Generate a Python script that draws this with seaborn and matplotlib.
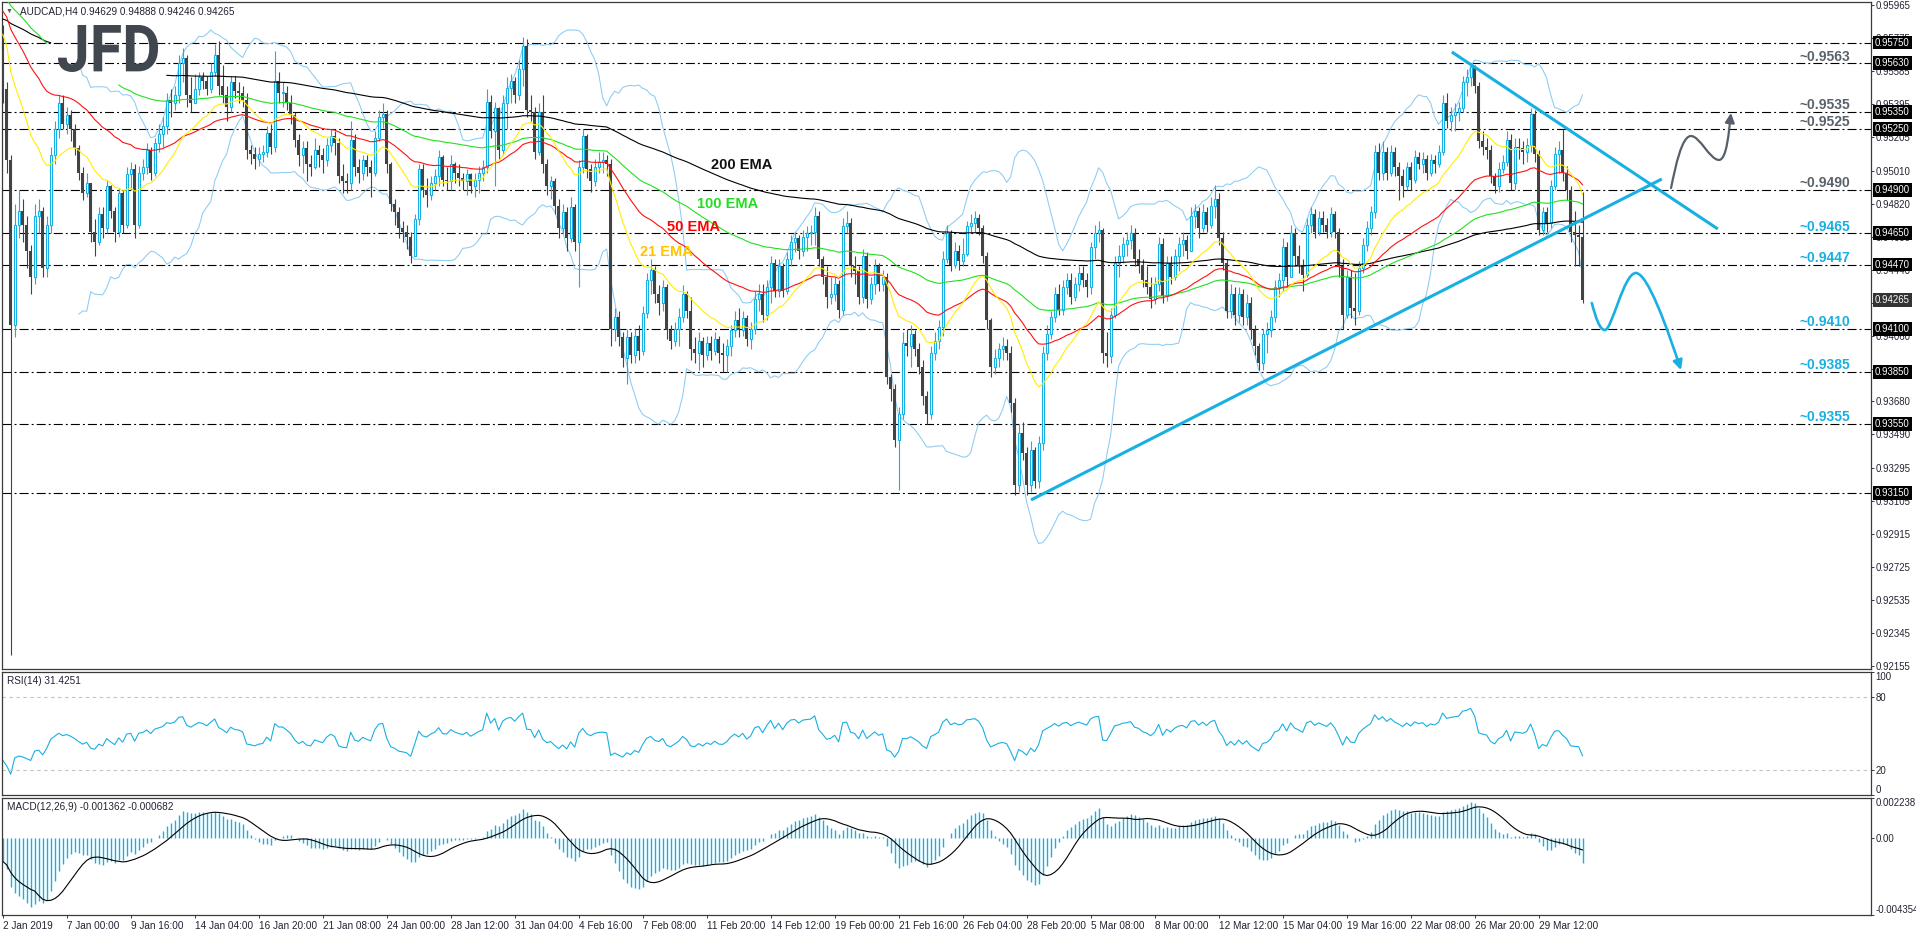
import numpy as np
import pandas as pd
import matplotlib.pyplot as plt
import seaborn as sns
import matplotlib.transforms as mtransforms
from matplotlib.path import Path
from matplotlib.patches import FancyArrowPatch, PathPatch
from matplotlib.textpath import TextPath
from matplotlib.font_manager import FontProperties

sns.set_theme(style='white')
plt.rcParams['font.family'] = ['Liberation Sans', 'DejaVu Sans']
plt.rcParams['lines.scale_dashes'] = False

# AUDCAD H4 candles, prices in pips (x 0.0001); open of each bar = previous close
open_first = 9570
close_pips = [
    9548, 9507, 9412, 9470, 9478, 9470, 9455, 9440, 9475, 9478,
    9445, 9470, 9510, 9525, 9540, 9528, 9533, 9525, 9514, 9500,
    9488, 9494, 9466, 9460, 9476, 9468, 9492, 9478, 9466, 9488,
    9470, 9499, 9502, 9470, 9500, 9503, 9513, 9500, 9517, 9522,
    9527, 9542, 9540, 9545, 9563, 9566, 9545, 9540, 9548, 9555,
    9553, 9548, 9558, 9568, 9550, 9545, 9538, 9552, 9547, 9546,
    9542, 9513, 9511, 9508, 9511, 9512, 9523, 9515, 9553, 9546,
    9546, 9540, 9533, 9519, 9510, 9514, 9505, 9503, 9513, 9510,
    9507, 9516, 9521, 9517, 9498, 9495, 9494, 9519, 9503, 9500,
    9507, 9503, 9500, 9520, 9532, 9534, 9505, 9482, 9477, 9468,
    9466, 9463, 9452, 9473, 9502, 9490, 9487, 9494, 9498, 9509,
    9496, 9495, 9505, 9500, 9497, 9495, 9499, 9492, 9496, 9500,
    9503, 9541, 9524, 9537, 9513, 9540, 9549, 9553, 9545, 9560,
    9573, 9536, 9535, 9512, 9535, 9505, 9492, 9495, 9481, 9468,
    9477, 9462, 9480, 9460, 9503, 9521, 9502, 9495, 9503, 9506,
    9507, 9505, 9410, 9417, 9405, 9393, 9405, 9395, 9406, 9397,
    9419, 9438, 9444, 9430, 9425, 9434, 9409, 9403, 9410, 9417,
    9430, 9420, 9398, 9396, 9403, 9395, 9402, 9397, 9404, 9396,
    9395, 9400, 9409, 9415, 9409, 9416, 9404, 9410, 9427, 9430,
    9418, 9434, 9448, 9432, 9446, 9432, 9450, 9460, 9462, 9455,
    9463, 9465, 9466, 9475, 9450, 9440, 9428, 9430, 9436, 9421,
    9469, 9471, 9446, 9443, 9428, 9452, 9427, 9436, 9446, 9436,
    9440, 9382, 9375, 9346, 9361, 9402, 9400, 9407, 9398, 9388,
    9371, 9361, 9396, 9403, 9411, 9450, 9465, 9447, 9455, 9449,
    9453, 9469, 9471, 9474, 9468, 9452, 9415, 9388, 9393, 9398,
    9400, 9396, 9367, 9320, 9350, 9338, 9320, 9340, 9322, 9344,
    9396, 9407, 9417, 9430, 9421, 9434, 9438, 9428, 9436, 9442,
    9438, 9434, 9457, 9465, 9467, 9396, 9394, 9418, 9448, 9452,
    9459, 9461, 9465, 9450, 9447, 9438, 9434, 9427, 9436, 9459,
    9429, 9448, 9440, 9452, 9459, 9461, 9455, 9475, 9478, 9468,
    9477, 9470, 9481, 9485, 9462, 9448, 9420, 9430, 9418, 9430,
    9417, 9425, 9409, 9400, 9390, 9407, 9409, 9417, 9434, 9438,
    9457, 9440, 9465, 9452, 9447, 9441, 9470, 9476, 9466, 9474,
    9470, 9466, 9476, 9466, 9446, 9418, 9440, 9422, 9420, 9445,
    9458, 9468, 9477, 9512, 9500, 9512, 9500, 9512, 9503, 9498,
    9492, 9503, 9496, 9509, 9505, 9508, 9500, 9507, 9505, 9512,
    9540, 9530, 9533, 9535, 9537, 9552, 9555, 9561, 9550, 9518,
    9515, 9513, 9498, 9492, 9502, 9506, 9519, 9494, 9515, 9514,
    9512, 9516, 9534, 9511, 9467, 9477, 9471, 9492, 9511, 9513,
    9500, 9490, 9466, 9464, 9462.9, 9426.5,
]
high_pips = [
    9585, 9552, 9510, 9482, 9490, 9485, 9475, 9458, 9482, 9485,
    9480, 9475, 9515, 9530, 9545, 9545, 9538, 9536, 9528, 9516,
    9503, 9500, 9494, 9473, 9480, 9480, 9496, 9493, 9480, 9491,
    9490, 9503, 9506, 9505, 9504, 9508, 9517, 9515, 9520, 9528,
    9532, 9546, 9548, 9550, 9568, 9572, 9568, 9555, 9557, 9558,
    9558, 9556, 9563, 9574, 9576, 9562, 9550, 9556, 9556, 9552,
    9550, 9546, 9516, 9515, 9515, 9516, 9527, 9528, 9570, 9558,
    9552, 9550, 9545, 9535, 9522, 9518, 9518, 9510, 9520, 9516,
    9514, 9520, 9525, 9524, 9520, 9505, 9500, 9530, 9522, 9508,
    9510, 9510, 9507, 9524, 9536, 9540, 9536, 9506, 9485, 9480,
    9472, 9470, 9466, 9476, 9505, 9505, 9497, 9498, 9502, 9513,
    9510, 9503, 9510, 9506, 9505, 9500, 9502, 9500, 9500, 9504,
    9507, 9548, 9545, 9541, 9538, 9545, 9555, 9557, 9555, 9565,
    9578, 9577, 9545, 9538, 9540, 9545, 9508, 9498, 9497, 9485,
    9482, 9480, 9486, 9482, 9507, 9525, 9522, 9505, 9508, 9512,
    9512, 9510, 9508, 9422, 9420, 9408, 9410, 9408, 9410, 9412,
    9423, 9442, 9450, 9446, 9435, 9438, 9436, 9412, 9414, 9422,
    9435, 9432, 9428, 9405, 9408, 9405, 9406, 9406, 9408, 9406,
    9402, 9404, 9412, 9420, 9422, 9420, 9418, 9414, 9432, 9436,
    9436, 9438, 9452, 9450, 9450, 9448, 9454, 9464, 9466, 9464,
    9467, 9469, 9470, 9480, 9478, 9452, 9446, 9440, 9440, 9438,
    9474, 9478, 9474, 9452, 9446, 9456, 9454, 9440, 9450, 9448,
    9444, 9442, 9384, 9378, 9365, 9408, 9410, 9412, 9409, 9402,
    9392, 9374, 9400, 9408, 9415, 9455, 9470, 9467, 9460, 9458,
    9462, 9472, 9476, 9478, 9476, 9470, 9454, 9416, 9398, 9402,
    9405, 9404, 9400, 9370, 9355, 9356, 9342, 9345, 9342, 9348,
    9400, 9412, 9420, 9434, 9436, 9438, 9442, 9442, 9440, 9446,
    9446, 9442, 9460, 9470, 9472, 9468, 9408, 9422, 9452, 9458,
    9463, 9466, 9470, 9468, 9456, 9450, 9446, 9440, 9440, 9463,
    9462, 9452, 9452, 9456, 9463, 9466, 9464, 9480, 9482, 9480,
    9482, 9480, 9486, 9493, 9488, 9466, 9450, 9436, 9434, 9434,
    9433, 9430, 9428, 9412, 9402, 9410, 9414, 9421, 9438, 9442,
    9462, 9460, 9470, 9468, 9458, 9450, 9474, 9480, 9479, 9478,
    9478, 9474, 9480, 9478, 9468, 9450, 9444, 9444, 9442, 9449,
    9462, 9472, 9481, 9516, 9517, 9518, 9515, 9516, 9515, 9506,
    9502, 9506, 9506, 9513, 9512, 9512, 9510, 9511, 9510, 9516,
    9545, 9546, 9538, 9540, 9541, 9556, 9560, 9563, 9562, 9552,
    9524, 9520, 9516, 9500, 9506, 9510, 9524, 9522, 9520, 9520,
    9518, 9520, 9537, 9536, 9513, 9480, 9480, 9496, 9515, 9518,
    9525, 9504, 9492, 9478, 9470, 9488.8,
]
low_pips = [
    9540, 9500, 9222, 9405, 9462, 9460, 9445, 9430, 9436, 9465,
    9440, 9440, 9465, 9505, 9520, 9525, 9522, 9518, 9510, 9496,
    9484, 9486, 9460, 9452, 9458, 9462, 9465, 9474, 9460, 9463,
    9465, 9468, 9490, 9462, 9468, 9496, 9499, 9496, 9498, 9512,
    9515, 9522, 9532, 9536, 9540, 9552, 9538, 9535, 9540, 9545,
    9548, 9545, 9546, 9556, 9545, 9540, 9530, 9535, 9543, 9540,
    9538, 9508, 9505, 9502, 9504, 9506, 9509, 9511, 9512, 9540,
    9538, 9536, 9528, 9515, 9504, 9500, 9495, 9498, 9502, 9503,
    9500, 9504, 9512, 9510, 9494, 9488, 9488, 9490, 9498, 9494,
    9496, 9498, 9486, 9498, 9518, 9526, 9500, 9478, 9470, 9462,
    9460, 9456, 9448, 9452, 9470, 9486, 9480, 9484, 9490, 9492,
    9492, 9490, 9490, 9494, 9492, 9490, 9487, 9488, 9486, 9488,
    9495, 9500, 9520, 9492, 9508, 9510, 9525, 9540, 9540, 9542,
    9550, 9532, 9530, 9508, 9510, 9500, 9487, 9485, 9476, 9462,
    9465, 9455, 9460, 9455, 9434, 9500, 9497, 9489, 9492, 9500,
    9500, 9498, 9400, 9403, 9400, 9388, 9378, 9390, 9390, 9392,
    9395, 9416, 9430, 9425, 9418, 9420, 9404, 9398, 9400, 9400,
    9414, 9416, 9392, 9390, 9386, 9388, 9392, 9392, 9395, 9390,
    9385, 9385, 9394, 9405, 9405, 9406, 9400, 9398, 9407, 9420,
    9414, 9415, 9425, 9428, 9428, 9428, 9430, 9446, 9454, 9450,
    9452, 9455, 9458, 9458, 9446, 9436, 9422, 9424, 9426, 9416,
    9418, 9465, 9440, 9436, 9424, 9425, 9422, 9424, 9430, 9432,
    9432, 9378, 9368, 9342, 9317, 9358, 9394, 9388, 9394, 9384,
    9366, 9355, 9358, 9392, 9398, 9406, 9448, 9443, 9445, 9444,
    9446, 9452, 9465, 9466, 9464, 9448, 9410, 9382, 9384, 9388,
    9392, 9392, 9362, 9314, 9316, 9334, 9314, 9316, 9318, 9318,
    9340, 9392, 9404, 9414, 9418, 9418, 9430, 9424, 9426, 9432,
    9434, 9428, 9430, 9450, 9460, 9390, 9388, 9390, 9416, 9440,
    9448, 9452, 9456, 9446, 9442, 9434, 9430, 9422, 9424, 9432,
    9425, 9426, 9436, 9438, 9443, 9452, 9450, 9455, 9468, 9462,
    9466, 9466, 9468, 9474, 9458, 9444, 9416, 9416, 9412, 9414,
    9412, 9412, 9404, 9395, 9386, 9386, 9396, 9405, 9414, 9428,
    9432, 9434, 9440, 9446, 9442, 9432, 9440, 9465, 9462, 9464,
    9466, 9462, 9463, 9462, 9440, 9410, 9416, 9416, 9412, 9418,
    9442, 9455, 9464, 9474, 9496, 9496, 9496, 9498, 9498, 9484,
    9486, 9490, 9490, 9494, 9502, 9500, 9496, 9498, 9500, 9503,
    9510, 9526, 9524, 9524, 9530, 9535, 9544, 9550, 9546, 9514,
    9510, 9508, 9494, 9488, 9489, 9500, 9504, 9490, 9490, 9508,
    9505, 9506, 9512, 9506, 9464, 9464, 9466, 9468, 9490, 9500,
    9495, 9484, 9460, 9446, 9446, 9424.6,
]
assert len(close_pips) == len(high_pips) == len(low_pips) == 396

# indicator values at the first bar
ema_seed = {21: 0.9583, 50: 0.9595, 100: 0.9603, 200: 0.9589}
ema_gap = {100: (12, 29), 200: (13, 41)}   # bars where the line is not drawn
macd_seed = (0.9575, 0.9587)
rsi_seed = (0.0005, 0.0011)

# support / resistance levels
levels = [0.9575, 0.9563, 0.9535, 0.9525, 0.9490, 0.9465, 0.9447, 0.9410, 0.9385, 0.9355, 0.9315]
note_levels = [0.9563, 0.9535, 0.9525, 0.9490, 0.9465, 0.9447, 0.9410, 0.9385, 0.9355]
note_kind = ['gray', 'gray', 'gray', 'gray', 'blue', 'blue', 'blue', 'blue', 'blue']
last_price = 0.94265

# trend lines and projected paths (bar index, price)
up_trend = ([257.1, 414.8], [0.93112, 0.94963])
down_trend = ([362.3, 428.8], [0.95696, 0.94675])
bull_path = [(417.1, 0.94911), (418.3, 0.95044), (419.8, 0.95211), (422.1, 0.95211),
             (424.3, 0.95211), (426.8, 0.95073), (429.1, 0.95073),
             (431.1, 0.95073), (431.6, 0.95246), (432.1, 0.95344)]
bear_path = [(397.3, 0.94248), (398.3, 0.94161), (399.3, 0.94092), (400.6, 0.94092),
             (402.3, 0.94092), (405.3, 0.94421), (408.3, 0.94421),
             (411.3, 0.94421), (416.3, 0.94092), (419.6, 0.93861)]

price_ticks = [0.95965, 0.95775, 0.95585, 0.95395, 0.95205, 0.95010, 0.94820, 0.94630,
               0.94440, 0.94250, 0.94060, 0.93870, 0.93680, 0.93490, 0.93295, 0.93105,
               0.92915, 0.92725, 0.92535, 0.92345, 0.92155]
time_labels = ['2 Jan 2019', '7 Jan 00:00', '9 Jan 16:00', '14 Jan 04:00', '16 Jan 20:00',
               '21 Jan 08:00', '24 Jan 00:00', '28 Jan 12:00', '31 Jan 04:00', '4 Feb 16:00',
               '7 Feb 08:00', '11 Feb 20:00', '14 Feb 12:00', '19 Feb 00:00', '21 Feb 16:00',
               '26 Feb 04:00', '28 Feb 20:00', '5 Mar 08:00', '8 Mar 00:00', '12 Mar 12:00',
               '15 Mar 04:00', '19 Mar 16:00', '22 Mar 08:00', '26 Mar 20:00', '29 Mar 12:00']

CYAN = '#18b0e2'
DARK = '#434343'
GRAY_TXT = '#59626b'
EMA_COL = {21: '#ffee00', 50: '#ff1111', 100: '#22e022', 200: '#000000'}
TXT = '#222233'


def ema(values, span, start):
    k = 2.0 / (span + 1)
    out = np.empty(len(values))
    prev = start
    for i, v in enumerate(values):
        prev = prev + k * (v - prev)
        out[i] = prev
    return out


c = np.array(close_pips, dtype=float) / 1e4
o = np.r_[open_first / 1e4, c[:-1]]
h = np.maximum(np.array(high_pips, dtype=float) / 1e4, np.maximum(o, c))
l = np.minimum(np.array(low_pips, dtype=float) / 1e4, np.minimum(o, c))
bars = np.arange(len(c))
n = len(c)

# Bollinger (20, 2)
s = pd.Series(c)
bb_mid = s.rolling(20).mean()
bb_sd = s.rolling(20).std(ddof=0)
bb_up = (bb_mid + 2 * bb_sd).to_numpy()
bb_lo = (bb_mid - 2 * bb_sd).to_numpy()

# RSI(14), Wilder smoothing
delta = np.diff(np.r_[open_first / 1e4, c])
ag, al = rsi_seed
rsi = []
for d in delta:
    ag = (13 * ag + max(d, 0)) / 14
    al = (13 * al + max(-d, 0)) / 14
    rsi.append(100 - 100 / (1 + ag / al))
rsi = np.array(rsi)

# MACD(12, 26, 9)
macd = ema(c, 12, macd_seed[0]) - ema(c, 26, macd_seed[1])
signal = pd.Series(macd).rolling(9, min_periods=1).mean().to_numpy()

# ---------------- figure ----------------
W, H = 1916.0, 936.0
fig = plt.figure(figsize=(W / 100, H / 100), dpi=100)
fig.patch.set_facecolor('white')


def panel(top, bottom):
    return fig.add_axes([2 / W, 1 - bottom / H, (1871 - 2) / W, (bottom - top) / H])


ax = panel(2, 669)
ax_rsi = panel(672, 795)
ax_macd = panel(798, 915)

# levels
for lv in levels:
    ax.axhline(lv, color='black', lw=0.8, ls=(0, (6.5, 2.2, 1.4, 2.2)), zorder=1.5)

# bollinger bands
sns.lineplot(x=bars, y=bb_up, ax=ax, color='#8ccbf2', linewidth=0.75, estimator=None, zorder=2)
sns.lineplot(x=bars, y=bb_lo, ax=ax, color='#8ccbf2', linewidth=0.75, estimator=None, zorder=2)

# candles
up = c >= o
ax.vlines(bars[up], l[up], h[up], color=CYAN, lw=0.8, zorder=3)
ax.vlines(bars[~up], l[~up], h[~up], color=DARK, lw=0.8, zorder=3)
body = np.maximum(np.abs(c - o), 0.00003)
bottom = np.minimum(o, c)
ax.bar(bars[up], body[up], bottom=bottom[up], width=0.55, facecolor='white',
       edgecolor=CYAN, linewidth=0.8, zorder=3.1)
ax.bar(bars[~up], body[~up], bottom=bottom[~up], width=0.7, color=DARK,
       linewidth=0, zorder=3.1)

# moving averages
for span in (200, 100, 50, 21):
    vals = ema(c, span, ema_seed[span])
    if span in ema_gap:
        g0, g1 = ema_gap[span]
        pieces = [(0, g0), (g1, n)]
    else:
        pieces = [(0, n)]
    for a, b in pieces:
        sns.lineplot(x=bars[a:b], y=vals[a:b], ax=ax, color=EMA_COL[span],
                     linewidth=0.8, estimator=None, zorder=4)

# EMA names
for span, (bx, py), col in [(200, (177.1, 0.95044), '#111111'), (100, (173.6, 0.94819), '#22dd22'),
                            (50, (166.1, 0.94686), '#ff0000'), (21, (159.3, 0.94542), '#ffc400')]:
    ax.text(bx, py, f'{span} EMA', color=col, fontsize=10.5, fontweight='bold',
            ha='left', va='center', zorder=6)

# level notes
for lv, kind in zip(note_levels, note_kind):
    ax.annotate(f'~{lv:.4f}', (461.8, lv), xytext=(0, 2), textcoords='offset points',
                ha='right', va='baseline', fontsize=10, fontweight='bold',
                color=GRAY_TXT if kind == 'gray' else CYAN, zorder=6)

# trend lines
ax.plot(up_trend[0], up_trend[1], color=CYAN, lw=2.2, solid_capstyle='butt', zorder=5)
ax.plot(down_trend[0], down_trend[1], color=CYAN, lw=2.2, solid_capstyle='butt', zorder=5)

# projected paths
codes = [Path.MOVETO] + [Path.CURVE4] * 9
for pts, col, lw in [(bull_path, '#56606b', 1.6), (bear_path, CYAN, 1.9)]:
    arr = FancyArrowPatch(path=Path(pts, codes), arrowstyle='-|>', mutation_scale=14,
                          color=col, lw=lw, zorder=6)
    ax.add_patch(arr)

ax.set_xlim(-0.175, 467.1)
ax.set_ylim(0.92137, 0.95984)
ax.set_xticks([])
ax.set_yticks(price_ticks)
ax.set_yticklabels([f'{v:.5f}' for v in price_ticks])
ax.set_xlabel('')
ax.set_ylabel('')

# price boxes on the right axis
box_tr = mtransforms.blended_transform_factory(fig.transFigure, ax.transData)
for lv in levels + [last_price]:
    fc = '#000000' if lv != last_price else '#333333'
    ax.text(1875 / W, lv, f'{lv:.5f}', transform=box_tr, color='white', fontsize=6.9,
            ha='left', va='center', zorder=10, clip_on=False,
            bbox=dict(boxstyle='square,pad=0.2', fc=fc, ec='none'))

# RSI panel
sns.lineplot(x=bars, y=rsi, ax=ax_rsi, color=CYAN, linewidth=0.8, estimator=None)
for lv in (80, 20):
    ax_rsi.axhline(lv, color='#c4c4c4', lw=0.8, ls=(0, (2.5, 2.5)))
ax_rsi.set_ylim(0, 100)
ax_rsi.set_yticks([100, 80, 20, 0])
ax_rsi.set_yticklabels(['100', '80', '20', '0'])
ax_rsi.set_xticks([])

# MACD panel
ax_macd.vlines(bars, 0, macd, color=CYAN, lw=1.0)
sns.lineplot(x=bars, y=signal, ax=ax_macd, color='black', linewidth=0.8, estimator=None)
ax_macd.set_ylim(-0.004354, 0.002238)
ax_macd.set_yticks([0.002238, 0.0, -0.004354])
ax_macd.set_yticklabels(['0.002238', '0.00', '-0.004354'])
ax_macd.set_xticks(np.arange(0, 16 * len(time_labels), 16))
ax_macd.set_xticklabels(time_labels, ha='left')

for a in (ax, ax_rsi, ax_macd):
    a.set_xlim(-0.175, 467.1)
    a.set_xlabel('')
    a.set_ylabel('')
    a.set_facecolor('white')
    a.grid(False)
    for sp in a.spines.values():
        sp.set_color('#3a3a3a')
        sp.set_linewidth(0.9)
    a.tick_params(axis='y', left=False, right=True, labelleft=False, labelright=True,
                  length=2, width=0.7, pad=1, labelsize=6.9, colors='#3a3a3a',
                  labelcolor=TXT, direction='out')
ax_macd.tick_params(axis='x', bottom=True, length=2.5, width=0.7, pad=1.5,
                    labelsize=7.2, colors='#3a3a3a', labelcolor=TXT, direction='out')
ax_rsi.get_yticklabels()[0].set_va('top')
ax_rsi.get_yticklabels()[-1].set_va('bottom')
ax_macd.get_yticklabels()[0].set_va('top')
ax_macd.get_yticklabels()[-1].set_va('bottom')

# panel captions
fig.text(9 / W, 1 - 11 / H, '▼', fontsize=5, color='#555555', ha='center', va='center')
fig.text(20 / W, 1 - 11 / H, 'AUDCAD,H4 0.94629 0.94888 0.94246 0.94265', fontsize=7.2,
         color=TXT, ha='left', va='center')
fig.text(7 / W, 1 - 681 / H, 'RSI(14) 31.4251', fontsize=7.2, color=TXT, ha='left', va='center')
fig.text(7 / W, 1 - 807 / H, 'MACD(12,26,9) -0.001362 -0.000682', fontsize=7.2, color=TXT,
         ha='left', va='center')

# JFD logo
tp = TextPath((0, 0), 'JFD', size=100, prop=FontProperties(family='Roboto', weight='bold'))
ext = tp.get_extents()
x0, x1 = 58 / W, 158 / W
y0, y1 = 1 - 72 / H, 1 - 25 / H
logo_tr = (mtransforms.Affine2D().translate(-ext.x0, -ext.y0)
           .scale((x1 - x0) / ext.width, (y1 - y0) / ext.height).translate(x0, y0))
fig.add_artist(PathPatch(tp, transform=logo_tr + fig.transFigure, fc='#41474e', ec='none'))

fig.savefig('out.png', dpi=100, facecolor='white')
